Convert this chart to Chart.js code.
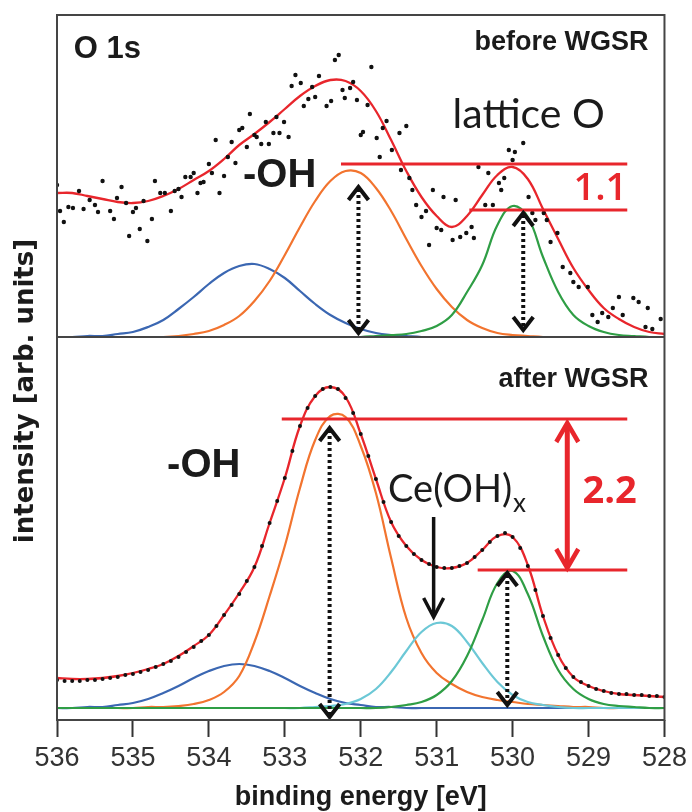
<!DOCTYPE html>
<html>
<head>
<meta charset="utf-8">
<script src="https://cdn.jsdelivr.net/npm/chart.js@4.4.1/dist/chart.umd.min.js"></script>
<style>
html,body{margin:0;padding:0;background:#ffffff;}
#wrap{position:relative;width:692px;height:812px;}
canvas{display:block;}
</style>
</head>
<body>
<div id="wrap"><canvas id="c" width="692" height="812"></canvas></div>
<script>
// ---------- data ----------
const xTickValues = [536, 535, 534, 533, 532, 531, 530, 529, 528];

// energy grid of the fitted curves (eV)
const energyGrid = [536.0,535.8,535.6,535.4,535.2,535.0,534.8,534.6,534.4,534.2,534.0,533.8,533.6,533.4,533.2,533.0,532.8,532.6,532.4,532.2,532.0,531.8,531.6,531.4,531.2,531.0,530.8,530.6,530.4,530.2,530.0,529.8,529.6,529.4,529.2,529.0,528.8,528.6,528.4,528.2,528.0];

// before WGSR
const beforeEnvelope = [1.44,1.44,1.41,1.38,1.35,1.34,1.36,1.41,1.48,1.57,1.66,1.78,1.92,2.03,2.15,2.28,2.41,2.51,2.57,2.56,2.46,2.26,1.97,1.66,1.40,1.21,1.10,1.21,1.42,1.62,1.70,1.58,1.28,0.98,0.69,0.47,0.29,0.18,0.10,0.05,0.03];
const beforeBlue = [0.00,0.00,0.01,0.01,0.03,0.05,0.10,0.17,0.28,0.40,0.53,0.64,0.71,0.73,0.68,0.59,0.46,0.33,0.22,0.14,0.08,0.04,0.02,0.01,0.00,0.00,0.00,0.00,0.00,0.00,0.00,0.00,0.00,0.00,0.00,0.00,0.00,0.00,0.00,0.00,0.00];
const beforeOH = [0.00,0.00,0.00,0.00,0.00,0.00,0.00,0.00,0.01,0.03,0.06,0.12,0.21,0.36,0.56,0.82,1.10,1.36,1.56,1.66,1.64,1.49,1.26,0.98,0.71,0.48,0.30,0.17,0.09,0.04,0.02,0.01,0.00,0.00,0.00,0.00,0.00,0.00,0.00,0.00,0.00];
const beforeLattice = [0.00,0.00,0.00,0.00,0.00,0.00,0.00,0.00,0.00,0.00,0.00,0.00,0.00,0.00,0.00,0.00,0.00,0.00,0.00,0.00,0.00,0.01,0.02,0.03,0.06,0.11,0.22,0.45,0.72,1.12,1.31,1.20,0.80,0.45,0.22,0.11,0.05,0.02,0.01,0.00,0.00];

const beforeDataE = [536.00,535.96,535.91,535.85,535.79,535.71,535.65,535.57,535.50,535.46,535.40,535.30,535.25,535.21,535.15,535.09,535.05,535.00,534.96,534.91,534.86,534.81,534.75,534.71,534.64,534.58,534.50,534.45,534.40,534.36,534.31,534.24,534.20,534.15,534.11,534.07,534.00,533.96,533.91,533.86,533.80,533.75,533.70,533.65,533.60,533.56,533.50,533.46,533.40,533.37,533.31,533.25,533.21,533.15,533.11,533.07,533.01,532.95,532.91,532.86,532.79,532.75,532.69,532.64,532.60,532.55,532.45,532.39,532.34,532.29,532.24,532.21,532.14,532.10,532.05,532.00,531.97,531.91,531.86,531.79,531.75,531.71,531.66,531.59,531.49,531.47,531.40,531.36,531.32,531.27,531.20,531.14,531.10,531.05,531.00,530.94,530.91,530.79,530.75,530.69,530.61,530.54,530.51,530.45,530.36,530.32,530.26,530.18,530.15,530.11,530.05,530.00,529.97,529.86,529.79,529.74,529.70,529.59,529.55,529.50,529.41,529.34,529.24,529.20,529.13,529.01,528.95,528.88,528.82,528.74,528.68,528.60,528.55,528.41,528.34,528.25,528.22,528.16,528.05];
const beforeDataI = [1.52,1.26,1.15,1.30,1.29,1.46,1.28,1.37,1.32,1.25,1.56,1.26,1.18,1.39,1.50,1.34,1.01,1.25,1.29,1.08,1.36,0.96,1.18,1.56,1.44,1.44,1.26,1.46,1.48,1.40,1.60,1.60,1.64,1.44,1.54,1.55,1.73,1.64,1.97,1.44,1.61,1.80,1.95,1.74,2.07,2.09,1.90,2.23,2.02,2.00,1.93,2.15,1.93,2.04,2.20,2.04,2.15,2.00,2.51,2.62,2.54,2.31,2.38,2.50,2.40,2.61,2.31,2.36,2.77,2.82,2.47,2.39,2.49,2.55,2.37,2.02,2.05,2.32,2.70,1.99,1.80,2.09,2.16,1.87,2.04,1.67,2.11,1.59,1.47,1.32,1.20,1.26,0.92,1.47,1.09,1.07,1.40,0.97,1.37,1.00,1.04,1.10,0.99,1.70,1.32,1.64,1.32,1.54,1.47,1.59,1.87,1.77,1.85,1.94,1.40,1.24,1.17,1.24,1.17,0.95,1.04,0.70,0.64,0.55,0.50,0.50,0.22,0.15,0.24,0.20,0.29,0.40,0.22,0.39,0.35,0.10,0.29,0.08,0.18];

// after WGSR
const afterEnvelope = [0.30,0.29,0.29,0.30,0.32,0.35,0.39,0.44,0.52,0.62,0.73,0.93,1.15,1.41,1.85,2.30,2.82,3.12,3.21,3.11,2.74,2.29,1.86,1.62,1.48,1.41,1.40,1.45,1.58,1.72,1.71,1.43,0.92,0.53,0.31,0.22,0.17,0.14,0.13,0.12,0.11];
const afterBlue = [0.00,0.00,0.01,0.01,0.03,0.05,0.09,0.15,0.22,0.30,0.37,0.42,0.44,0.42,0.37,0.30,0.22,0.15,0.09,0.05,0.03,0.01,0.01,0.00,0.00,0.00,0.00,0.00,0.00,0.00,0.00,0.00,0.00,0.00,0.00,0.00,0.00,0.00,0.00,0.00,0.00];
const afterOH = [0.00,0.00,0.00,0.00,0.00,0.00,0.01,0.01,0.02,0.04,0.08,0.16,0.32,0.66,1.12,1.62,2.20,2.68,2.92,2.91,2.62,2.15,1.50,0.90,0.55,0.35,0.24,0.16,0.11,0.08,0.06,0.04,0.03,0.02,0.01,0.01,0.00,0.00,0.00,0.00,0.00];
const afterCeOH = [0.00,0.00,0.00,0.00,0.00,0.00,0.00,0.00,0.00,0.00,0.00,0.00,0.00,0.00,0.00,0.00,0.00,0.01,0.02,0.04,0.09,0.19,0.36,0.57,0.76,0.85,0.82,0.66,0.45,0.26,0.13,0.06,0.03,0.01,0.00,0.00,0.00,0.00,0.00,0.00,0.00];
const afterLattice = [0.00,0.00,0.00,0.00,0.00,0.00,0.00,0.00,0.00,0.00,0.00,0.00,0.00,0.00,0.00,0.00,0.00,0.00,0.00,0.00,0.00,0.00,0.01,0.03,0.06,0.13,0.27,0.52,0.88,1.25,1.37,1.14,0.72,0.38,0.19,0.09,0.04,0.02,0.01,0.00,0.00];

const afterDataE = [536.0,535.9,535.8,535.7,535.6,535.5,535.4,535.3,535.2,535.1,535.0,534.9,534.8,534.7,534.6,534.5,534.4,534.3,534.2,534.1,534.0,533.9,533.8,533.7,533.6,533.5,533.4,533.3,533.2,533.1,533.0,532.9,532.8,532.7,532.6,532.5,532.4,532.3,532.2,532.1,532.0,531.9,531.8,531.7,531.6,531.5,531.4,531.3,531.2,531.1,531.0,530.9,530.8,530.7,530.6,530.5,530.4,530.3,530.2,530.1,530.0,529.9,529.8,529.7,529.6,529.5,529.4,529.3,529.2,529.1,529.0,528.9,528.8,528.7,528.6,528.5,528.4,528.3,528.2,528.1,528.0];
const afterDataI = [0.28,0.27,0.27,0.27,0.28,0.28,0.29,0.30,0.31,0.33,0.34,0.36,0.38,0.41,0.44,0.47,0.51,0.56,0.61,0.67,0.73,0.82,0.93,1.03,1.14,1.27,1.41,1.62,1.85,2.07,2.30,2.57,2.82,3.00,3.12,3.19,3.21,3.19,3.10,2.95,2.74,2.52,2.29,2.06,1.86,1.72,1.62,1.54,1.48,1.44,1.41,1.40,1.40,1.42,1.45,1.51,1.58,1.66,1.72,1.75,1.71,1.60,1.42,1.18,0.92,0.70,0.53,0.40,0.31,0.26,0.22,0.19,0.17,0.15,0.14,0.14,0.13,0.13,0.12,0.12,0.11];

// ---------- styling ----------
const RED = '#e8262c', ORANGE = '#f2742f', BLUE = '#3b67b2', GREEN = '#2f9e45', CYAN = '#6cc8d6', INK = '#1b1b1b', FRAME = '#454545';

const pts = (xs, ys) => xs.map((x, i) => ({x: x, y: ys[i]}));
const curve = (label, ys, axis, color, w) => ({label, data: pts(energyGrid, ys), yAxisID: axis, borderColor: color, borderWidth: w, pointRadius: 0, tension: 0.4, fill: false});
const dots = (label, xs, ys, axis, r) => ({label, data: pts(xs, ys), yAxisID: axis, showLine: false, pointRadius: r, pointBackgroundColor: '#111', pointBorderWidth: 0, pointHoverRadius: 0});

// annotations in data units (energy, intensity)
const annotations = {
  yTop: {
    texts: [
      {t: 'O 1s', e: 535.78, v: 2.79, font: 'bold 31px "Liberation Sans"', color: INK, align: 'left'},
      {t: 'before WGSR', e: 528.21, v: 2.87, font: 'bold 27px "Liberation Sans"', color: INK, align: 'right'},
      {t: 'lattice O', e: 530.79, v: 2.09, font: '41px Lato', color: INK, align: 'left'},
      {t: '-OH', e: 533.55, v: 1.50, font: 'bold 40px "Liberation Sans"', color: INK, align: 'left'},
      {t: '1.1', e: 528.49, v: 1.37, font: '600 38px "Open Sans"', color: RED, align: 'right'}
    ],
    lines: [
      {e1: 532.26, e2: 528.49, v: 1.73},
      {e1: 530.57, e2: 528.49, v: 1.27}
    ],
    dotted: [
      {e: 532.03, v1: 1.50, v2: 0.04},
      {e: 529.86, v1: 1.24, v2: 0.07}
    ]
  },
  yBot: {
    texts: [
      {t: 'after WGSR', e: 528.21, v: 3.21, font: 'bold 27px "Liberation Sans"', color: INK, align: 'right'},
      {t: '-OH', e: 534.55, v: 2.31, font: 'bold 40px "Liberation Sans"', color: INK, align: 'left'},
      {t: '2.2', e: 529.08, v: 2.05, font: 'bold 38px "Open Sans"', color: RED, align: 'left'}
    ],
    lines: [
      {e1: 533.04, e2: 528.49, v: 2.89},
      {e1: 530.46, e2: 528.49, v: 1.38}
    ],
    dotted: [
      {e: 532.41, v1: 2.80, v2: -0.09},
      {e: 530.07, v1: 1.35, v2: 0.03}
    ],
    ce: {e: 531.64, v: 2.06, sub: 1.96, arrowE: 531.04, a1: 1.91, a2: 0.91},
    redArrow: {e: 529.28, v1: 2.85, v2: 1.40}
  }
};

function head(ctx, x, y, dir, hw, h) {
  ctx.beginPath();
  ctx.moveTo(x - hw, y + dir * h);
  ctx.lineTo(x, y);
  ctx.lineTo(x + hw, y + dir * h);
  ctx.stroke();
}

const annotationPlugin = {
  id: 'xpsAnnotations',
  afterDatasetsDraw(chart) {
    const ctx = chart.ctx, xs = chart.scales.x;
    ctx.save();
    for (const axisId of ['yTop', 'yBot']) {
      const ys = chart.scales[axisId];
      const A = annotations[axisId];
      const X = e => xs.getPixelForValue(e), Y = v => ys.getPixelForValue(v);
      ctx.strokeStyle = RED; ctx.lineWidth = 3; ctx.setLineDash([]);
      for (const l of A.lines) { ctx.beginPath(); ctx.moveTo(X(l.e1), Y(l.v)); ctx.lineTo(X(l.e2), Y(l.v)); ctx.stroke(); }
      ctx.strokeStyle = '#111'; ctx.lineWidth = 4;
      for (const d of A.dotted) {
        const x = X(d.e), y1 = Y(d.v1), y2 = Y(d.v2);
        ctx.setLineDash([3, 3]); ctx.lineCap = 'butt';
        ctx.beginPath(); ctx.moveTo(x, y1 + 2); ctx.lineTo(x, y2 - 2); ctx.stroke();
        ctx.setLineDash([]); ctx.lineJoin = 'miter';
        head(ctx, x, y1, 1, 10, 13);
        head(ctx, x, y2, -1, 10, 13);
      }
      if (A.redArrow) {
        const r = A.redArrow, x = X(r.e), y1 = Y(r.v1), y2 = Y(r.v2);
        ctx.strokeStyle = RED; ctx.lineWidth = 5; ctx.setLineDash([]);
        ctx.beginPath(); ctx.moveTo(x, y1 + 2); ctx.lineTo(x, y2 - 2); ctx.stroke();
        ctx.lineWidth = 4.5;
        head(ctx, x, y1, 1, 11, 19);
        head(ctx, x, y2, -1, 11, 19);
      }
      if (A.ce) {
        const c = A.ce;
        ctx.fillStyle = INK; ctx.textAlign = 'left'; ctx.textBaseline = 'alphabetic';
        ctx.font = '38px Lato';
        ctx.fillText('Ce(OH)', X(c.e), Y(c.v));
        const w = ctx.measureText('Ce(OH)').width;
        ctx.font = '26px Lato';
        ctx.fillText('x', X(c.e) + w + 1, Y(c.sub));
        const ax = X(c.arrowE), a1 = Y(c.a1), a2 = Y(c.a2);
        ctx.strokeStyle = '#111'; ctx.lineWidth = 3.5;
        ctx.beginPath(); ctx.moveTo(ax, a1); ctx.lineTo(ax, a2 - 2); ctx.stroke();
        head(ctx, ax, a2, -1, 10, 19);
      }
      for (const t of A.texts) {
        ctx.font = t.font; ctx.fillStyle = t.color; ctx.textAlign = t.align; ctx.textBaseline = 'alphabetic';
        ctx.fillText(t.t, X(t.e), Y(t.v));
      }
    }
    ctx.restore();
  },
  afterDraw(chart) {
    const ctx = chart.ctx, a = chart.chartArea, yt = chart.scales.yTop;
    ctx.save();
    ctx.strokeStyle = FRAME; ctx.lineWidth = 2; ctx.setLineDash([]);
    ctx.strokeRect(a.left, a.top, a.right - a.left, a.bottom - a.top);
    ctx.beginPath(); ctx.moveTo(a.left, yt.bottom); ctx.lineTo(a.right, yt.bottom); ctx.stroke();
    ctx.translate(26, 391);
    ctx.rotate(-Math.PI / 2);
    ctx.font = 'bold 26px "DejaVu Sans"';
    ctx.fillStyle = INK; ctx.textAlign = 'center'; ctx.textBaseline = 'middle';
    ctx.fillText('intensity [arb. units]', 0, 0);
    ctx.restore();
  }
};

new Chart(document.getElementById('c'), {
  type: 'line',
  data: {
    datasets: [
      dots('before WGSR data', beforeDataE, beforeDataI, 'yTop', 2.2),
      dots('after WGSR data', afterDataE, afterDataI, 'yBot', 2),
      curve('before WGSR fit', beforeEnvelope, 'yTop', RED, 2.3),
      curve('after WGSR fit', afterEnvelope, 'yBot', RED, 2.3),
      curve('before lattice O', beforeLattice, 'yTop', GREEN, 2.2),
      curve('before -OH', beforeOH, 'yTop', ORANGE, 2.2),
      curve('before 533.4 eV', beforeBlue, 'yTop', BLUE, 2.2),
      curve('after lattice O', afterLattice, 'yBot', GREEN, 2.2),
      curve('after Ce(OH)x', afterCeOH, 'yBot', CYAN, 2.2),
      curve('after -OH', afterOH, 'yBot', ORANGE, 2.2),
      curve('after 533.6 eV', afterBlue, 'yBot', BLUE, 2.2)
    ]
  },
  options: {
    responsive: false,
    animation: false,
    devicePixelRatio: 1,
    layout: {padding: {left: 57, right: 27, top: 15, bottom: 0}},
    plugins: {legend: {display: false}, tooltip: {enabled: false}},
    scales: {
      x: {
        type: 'linear', min: 528, max: 536, reverse: true,
        afterBuildTicks: s => { s.ticks = xTickValues.map(v => ({value: v})); },
        ticks: {font: {family: 'Liberation Sans', size: 27}, color: '#333', padding: 5, maxRotation: 0, autoSkip: false, callback: v => String(v)},
        grid: {drawOnChartArea: false, drawTicks: true, tickLength: 17, tickWidth: 2, tickColor: '#333'},
        border: {display: false},
        title: {display: true, text: 'binding energy [eV]', color: INK, font: {family: 'Liberation Sans', size: 27, weight: 'bold', lineHeight: 1.1}, padding: {top: 0, bottom: 0}},
        afterFit: s => { s.height = 92; }
      },
      yTop: {type: 'linear', position: 'left', stack: 'panels', stackWeight: 322, weight: 2, min: 0, max: 3.22, display: false},
      yBot: {type: 'linear', position: 'left', stack: 'panels', stackWeight: 383, weight: 1, min: -0.12, max: 3.71, display: false}
    }
  },
  plugins: [annotationPlugin]
});
</script>
</body>
</html>
